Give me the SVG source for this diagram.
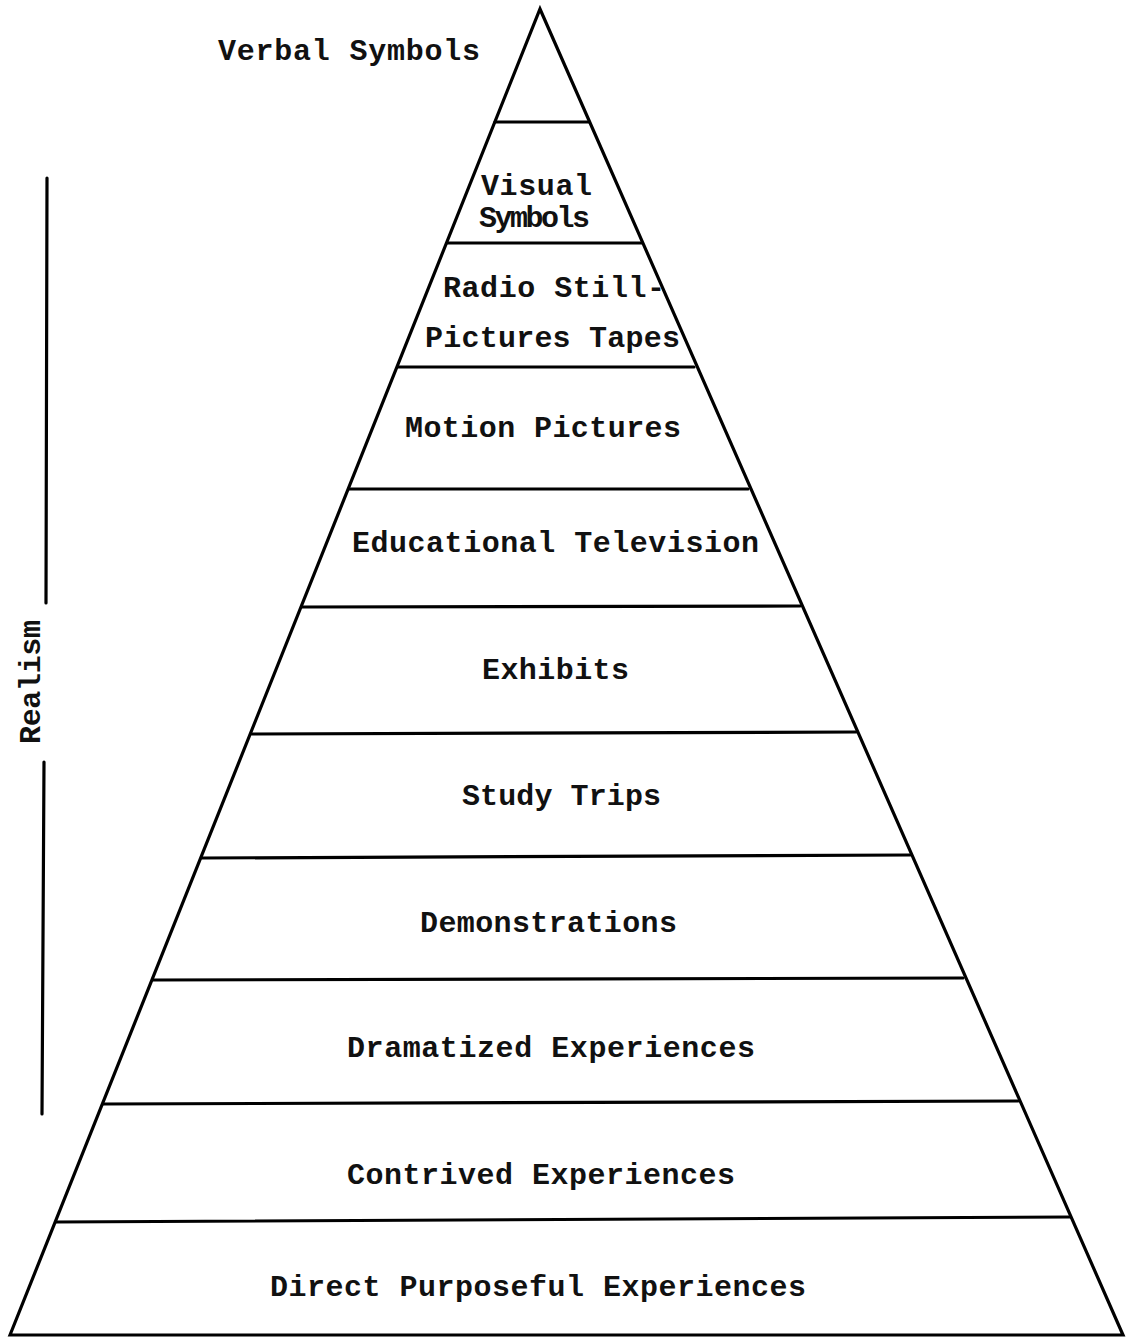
<svg xmlns="http://www.w3.org/2000/svg" width="1134" height="1338" viewBox="0 0 1134 1338">
<style>
.e{stroke:#000;stroke-width:3.2;fill:none;stroke-linecap:round}
.t{font-family:"Liberation Mono","Courier New",monospace;font-weight:bold;font-size:30px;fill:#111}
</style>
<rect width="1134" height="1338" fill="#fff"/>
<g id="connectors">
<path class="e" d="M10,1335 L540,9 L1123,1335 Z"/>
<line class="e" x1="495" y1="122" x2="589" y2="122"/>
<line class="e" x1="447" y1="243" x2="642" y2="243"/>
<line class="e" x1="398" y1="367" x2="694" y2="367"/>
<line class="e" x1="349" y1="489" x2="748" y2="489"/>
<line class="e" x1="302" y1="607" x2="800" y2="606"/>
<line class="e" x1="252" y1="734" x2="856" y2="732"/>
<line class="e" x1="202" y1="858" x2="910" y2="855"/>
<line class="e" x1="153" y1="980" x2="963" y2="978"/>
<line class="e" x1="103" y1="1104" x2="1018" y2="1101"/>
<line class="e" x1="56" y1="1222" x2="1070" y2="1217"/>
<line class="e" x1="47" y1="178" x2="46" y2="603"/>
<line class="e" x1="44" y1="762" x2="42" y2="1114"/>
</g>
<g id="verbal"><text class="t" x="218" y="60" textLength="262">Verbal Symbols</text></g>
<g id="visual"><text class="t" x="481" y="195" textLength="111">Visual</text><text class="t" x="479" y="227" textLength="111">Symbols</text></g>
<g id="radio"><text class="t" x="443" y="297" textLength="222">Radio Still-</text><text class="t" x="425" y="347" textLength="255">Pictures Tapes</text></g>
<g id="motion"><text class="t" x="405" y="437" textLength="276">Motion Pictures</text></g>
<g id="etv"><text class="t" x="352" y="552" textLength="407">Educational Television</text></g>
<g id="exhibits"><text class="t" x="482" y="679" textLength="147">Exhibits</text></g>
<g id="trips"><text class="t" x="462" y="805" textLength="199">Study Trips</text></g>
<g id="demo"><text class="t" x="420" y="932" textLength="257">Demonstrations</text></g>
<g id="drama"><text class="t" x="347" y="1057" textLength="408">Dramatized Experiences</text></g>
<g id="contrived"><text class="t" x="347" y="1184" textLength="388">Contrived Experiences</text></g>
<g id="direct"><text class="t" x="270" y="1296" textLength="536">Direct Purposeful Experiences</text></g>
<g id="realism"><text class="t" transform="translate(40,744) rotate(-90)" x="0" y="0" textLength="124">Realism</text></g>
</svg>
